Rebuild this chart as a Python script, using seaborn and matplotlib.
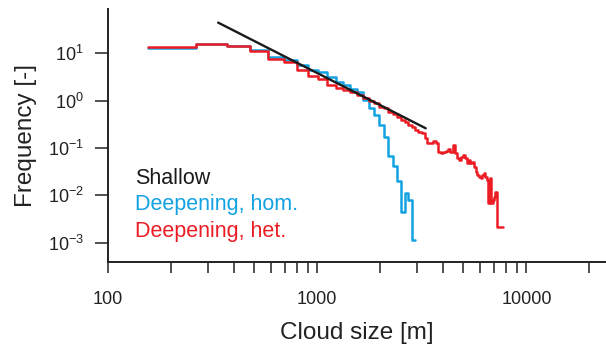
import numpy as np
import pandas as pd
import seaborn as sns
import matplotlib
matplotlib.use("Agg")
import matplotlib.pyplot as plt
from matplotlib.ticker import LogLocator, FixedLocator, FixedFormatter, NullFormatter

# bin edges of the cloud size histograms [m] (equal width bins)
bin_edges = np.arange(155, 155 + 107 * 72, 107)

# Deepening, homogeneous
hom_freq = [12.8, 16.0, 14.3, 11.6, 8.36, 7.1, 5.74, 4.5, 3.96, 3.15,
            2.47, 2.14, 1.76, 1.52, 1.03, 0.688, 0.497, 0.305, 0.168, 0.0675,
            0.0414, 0.0200, 0.00448, 0.0113, 0.0079, 0.00113]

# Deepening, heterogeneous
het_freq = [13.4, 16.0, 14.1, 11.0, 7.7, 6.55, 4.37, 3.36, 2.86, 2.14,
            1.82, 1.68, 1.54, 1.31, 1.12, 1.00, 0.877, 0.743, 0.681, 0.582,
            0.521, 0.457, 0.389, 0.358, 0.305, 0.277, 0.239, 0.220, 0.204, 0.160,
            0.125, 0.125, 0.142, 0.125, 0.083, 0.077, 0.082, 0.087, 0.093, 0.083,
            0.115, 0.077, 0.060, 0.055, 0.064, 0.071, 0.060, 0.047, 0.055, 0.047,
            0.051, 0.040, 0.031, 0.0267, 0.0243, 0.0228, 0.0267, 0.029, 0.0246, 0.0209,
            0.00675, 0.0228, 0.00675, 0.0079, 0.0093, 0.0119, 0.00216, 0.00216, 0.00216, 0.00216,
            0.00216]

# Shallow: power law fit
shallow_x = [336, 3300]
shallow_y = [44.4, 0.26]

xticks = [100, 1000, 10000]
xticklabels = ["100", "1000", "10000"]

BLUE = "#12a2e2"
RED = "#ec1c24"
BLACK = "#1a1a1a"


def step_frame(freq):
    n = len(freq)
    edges = bin_edges[:n + 1]
    return pd.DataFrame({"size": edges, "freq": list(freq) + [freq[-1]]})


sns.set_theme(style="ticks")
plt.rcParams["font.family"] = ["Liberation Sans", "DejaVu Sans"]
plt.rcParams["mathtext.fontset"] = "custom"
plt.rcParams["mathtext.rm"] = "Liberation Sans"

fig = plt.figure(figsize=(6.06, 3.47), dpi=100)
ax = fig.add_axes([108 / 606, 85 / 347, 498 / 606, 253 / 347])

hom = step_frame(hom_freq)
het = step_frame(het_freq)
sns.lineplot(data=hom, x="size", y="freq", drawstyle="steps-post", color=BLUE,
             lw=1.8, ax=ax, label="Deepening, hom.", estimator=None, sort=False)
sns.lineplot(data=het, x="size", y="freq", drawstyle="steps-post", color=RED,
             lw=1.8, ax=ax, label="Deepening, het.", estimator=None, sort=False)
sns.lineplot(x=shallow_x, y=shallow_y, color=BLACK, lw=1.7, ax=ax,
             label="Shallow", estimator=None, sort=False, zorder=5)

ax.set_xscale("log")
ax.set_yscale("log")
ax.set_xlim(100, 24000)
ax.set_ylim(3.9e-4, 86)

ax.xaxis.set_major_locator(FixedLocator(xticks))
ax.xaxis.set_major_formatter(FixedFormatter(xticklabels))
ax.xaxis.set_minor_locator(LogLocator(base=10, subs=np.arange(2, 10), numticks=20))
ax.xaxis.set_minor_formatter(NullFormatter())
ax.yaxis.set_major_locator(FixedLocator([1e-3, 1e-2, 1e-1, 1, 10]))
ax.yaxis.set_minor_locator(FixedLocator([]))

for side in ["top", "right"]:
    ax.spines[side].set_visible(False)
for side in ["left", "bottom"]:
    ax.spines[side].set_linewidth(1.4)
    ax.spines[side].set_color("#222222")

ax.tick_params(axis="x", which="both", direction="out", length=8, width=1.1,
               pad=13, labelsize=13, colors="#222222")
ax.tick_params(axis="y", which="both", direction="out", length=9.5, width=1.1,
               pad=8, labelsize=13, colors="#222222")

ax.set_xlabel("Cloud size [m]", fontsize=17.5, color="#222222", labelpad=10)
ax.set_ylabel("Frequency [-]", fontsize=17.5, color="#222222", labelpad=8)

handles, labels = ax.get_legend_handles_labels()
order = [2, 0, 1]
leg = ax.legend([handles[i] for i in order], [labels[i] for i in order],
                loc="lower left", bbox_to_anchor=(0.033, 0.038), frameon=False,
                handlelength=0, handletextpad=0, borderpad=0, labelspacing=0.25,
                fontsize=15.5, labelcolor="linecolor")

fig.savefig("out.png", dpi=100)
plt.close("all")
